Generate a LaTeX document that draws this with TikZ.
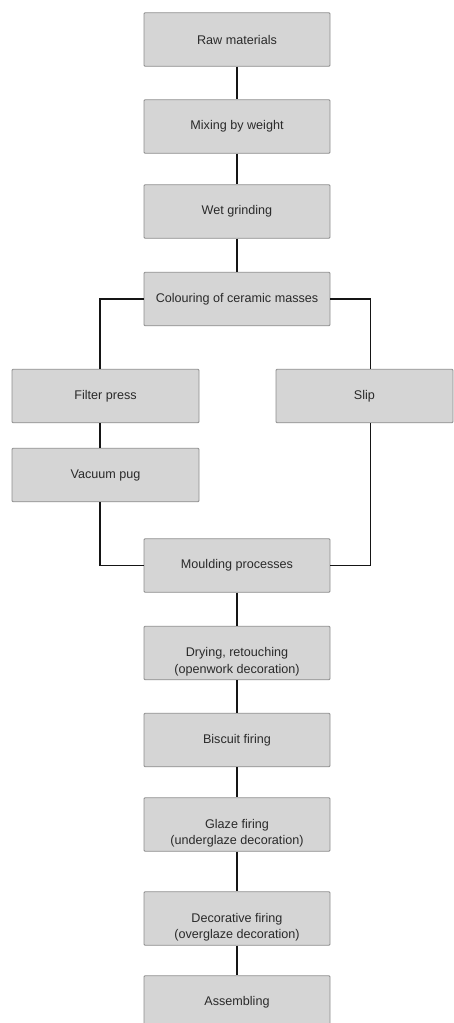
\documentclass[tikz,border=0pt]{standalone}
\usepackage{fontspec}
\setmainfont{Liberation Sans}
\definecolor{boxfill}{HTML}{D5D5D5}
\definecolor{boxline}{HTML}{8E8E8E}
\definecolor{txt}{HTML}{2A2A2A}
\definecolor{conn}{HTML}{151515}
\begin{document}
\begin{tikzpicture}[x=1pt,y=1pt,
  box/.style={draw=boxline, line width=0.9pt, fill=boxfill, rounded corners=1pt,
    minimum width=186pt, minimum height=53.5pt, inner sep=2pt, align=center,
    text=txt, font=\fontsize{12.6}{16.5}\selectfont},
  lbl/.style={align=center, text=txt, inner sep=0pt, yshift=-8.5pt,
    font=\fontsize{12.6}{16.5}\selectfont},
  link/.style={draw=conn, line width=1.9pt}]
\useasboundingbox[fill=white] (0,0) rectangle (454,-1023);
\begin{scope}
\clip (0,0) rectangle (454,-1023);
\coordinate (lx) at (100,0);
\coordinate (rx) at (370.5,0);
\node[box] (raw) at (237,-39.5) {Raw materials};
\node[box] (mix) at (237,-126.5) {Mixing by weight};
\node[box] (wet) at (237,-211.5) {Wet grinding};
\node[box] (col) at (237,-299) {Colouring of ceramic masses};
\node[box, minimum width=187pt] (filter) at (105.5,-396) {Filter press};
\node[box, minimum width=177pt] (slip) at (364.5,-396) {Slip};
\node[box, minimum width=187pt] (vac) at (105.5,-475) {Vacuum pug};
\node[box] (mould) at (237,-565.5) {Moulding processes};
\node[box, label={[lbl]center:Drying, retouching\\(openwork decoration)}] (dry) at (237,-653) {};
\node[box] (bisc) at (237,-740) {Biscuit firing};
\node[box, label={[lbl]center:Glaze firing\\(underglaze decoration)}] (glaze) at (237,-824.5) {};
\node[box, label={[lbl]center:Decorative firing\\(overglaze decoration)}] (deco) at (237,-918.5) {};
\node[box] (assem) at (237,-1002.5) {Assembling};
\draw[link] (raw.south) -- (mix.north);
\draw[link] (mix.south) -- (wet.north);
\draw[link] (wet.south) -- (col.north);
\draw[link] (col.west) -| (lx |- filter.north);
\draw[link] (lx |- filter.south) -- (lx |- vac.north);
\draw[link] (lx |- vac.south) |- (mould.west);
\draw[link] (col.east) -| (rx |- slip.north);
\draw[link] (rx |- slip.south) |- (mould.east);
\draw[link] (mould.south) -- (dry.north);
\draw[link] (dry.south) -- (bisc.north);
\draw[link] (bisc.south) -- (glaze.north);
\draw[link] (glaze.south) -- (deco.north);
\draw[link] (deco.south) -- (assem.north);
\end{scope}
\end{tikzpicture}
\end{document}
